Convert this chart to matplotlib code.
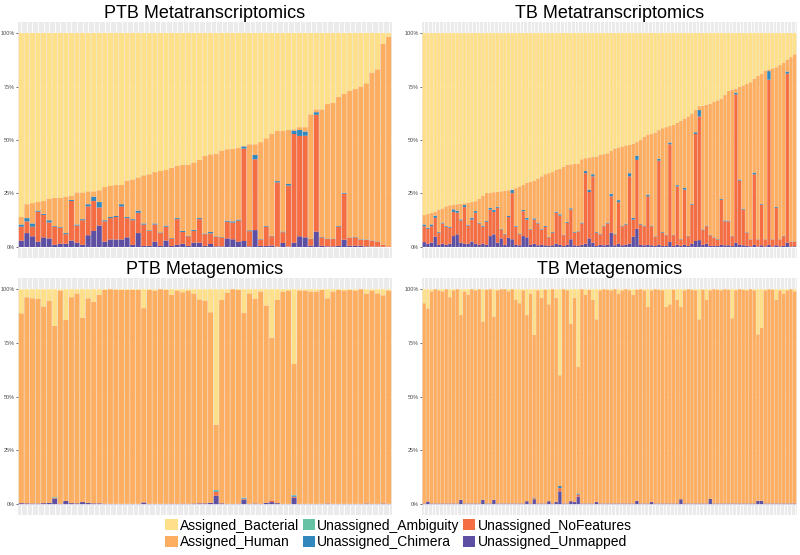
import matplotlib
matplotlib.use("Agg")
import matplotlib.pyplot as plt
from matplotlib.patches import Patch
import numpy as np

plt.rcParams['font.family'] = ['Liberation Sans', 'DejaVu Sans']

categories = ["Assigned_Bacterial", "Assigned_Human", "Unassigned_Ambiguity",
              "Unassigned_Chimera", "Unassigned_NoFeatures", "Unassigned_Unmapped"]
colors = ["#FEE08B", "#FDAE61", "#66C2A5", "#3288BD", "#F46D43", "#5E4FA2"]
titles = ["PTB Metatranscriptomics", "TB Metatranscriptomics",
          "PTB Metagenomics", "TB Metagenomics"]
y_ticks = [0, 25, 50, 75, 100]
y_labels = ["0%", "25%", "50%", "75%", "100%"]

# ---- PTB metatranscriptomics (percent of reads per sample) ----
ptb_mt_unmapped = [3, 6.5, 5, 2.5, 4.5, 4, 1, 1.5, 1.5, 3, 2, 1, 5.5, 7.5, 10, 2.5, 3.5, 3.5, 3.5, 4.5,
                   1, 6.5, 0.5, 0.5, 2.5, 0.5, 3, 0.5, 1, 1.5, 0.5, 2, 2, 0.5, 1.4, 0.3, 0.3, 4, 3.6, 2.5,
                   2.8, 0.3, 7.9, 0.5, 0.5, 0.7, 0.2, 1.9, 0.2, 2, 5, 4.5, 0.6, 7.2, 0.6, 0.3, 0.3, 0.5, 3.4, 0.6,
                   0.6, 0.6, 0.3, 0.2, 0.2, 0.1, 0]
ptb_mt_nofeatures = [6.5, 5.5, 4.5, 14, 10.5, 7.5, 8.5, 7.5, 4.5, 18.5, 8, 11.5, 13.5, 14, 8.5, 9.5, 10, 10.5, 15.5, 9,
                     11.5, 9.5, 10, 7, 8, 6, 6.5, 3.5, 12, 5.5, 4.5, 5.5, 11, 5.5, 5, 4.5, 4.2, 7.8, 7.8, 9.8,
                     43.2, 7.1, 33.1, 3, 9, 4.3, 30, 5, 28.5, 50.8, 46.9, 47.5, 3.1, 54.6, 3.9, 3.4, 3.4, 9, 21.5, 3.6,
                     3.9, 2.8, 3, 2.8, 2.3, 0.9, 0.3]
ptb_mt_chimera = [1, 1.5, 1.5, 0.5, 0.5, 1, 0.3, 0.3, 0.5, 0.5, 0.5, 0.5, 1, 2, 2.5, 0.5, 0.5, 0.5, 1, 0.5,
                  0.5, 1, 0.5, 0.3, 0.5, 0.3, 0.5, 0.2, 0.5, 0.5, 0.2, 0.5, 0.5, 0.3, 0.6, 0.2, 0.2, 0.5, 0.6, 0.5,
                  1, 0.4, 2, 0.2, 0.3, 0.2, 0.6, 0.3, 0.8, 1.6, 2.8, 2, 0.2, 1.2, 0.2, 0.2, 0.2, 0.3, 0.4, 0.2,
                  0.2, 0.2, 0.2, 0.1, 0.1, 0.1, 0]
ptb_mt_ambiguity = [0] * 67
ptb_mt_human = [3.5, 6.5, 9.5, 4, 6, 10, 13.2, 13.7, 17, 2, 15, 12.5, 6, 2.5, 5.5, 15.5, 14.5, 14.5, 9, 17,
                18.5, 15.5, 22.5, 26.2, 24, 28.7, 26, 32.8, 24.5, 31, 33.3, 31.5, 27.2, 36.2, 36.3, 38.6, 40.3, 33.4, 33.8, 33.6,
                0.2, 40.2, 5, 45.3, 41, 47.8, 23.4, 47, 25.2, 0.6, 1.3, 2, 58.1, 1.3, 59.6, 62.9, 63.5, 60.4, 46.2, 68.6,
                69.1, 71.4, 73, 78.4, 80.4, 93.9, 98]

# ---- TB metatranscriptomics ----
tb_mt_unmapped = [2.3, 1.5, 2, 4.8, 1, 1.5, 1, 1.5, 5.1, 5.9, 2, 1.5, 1.5, 2.5, 1.5, 1, 1.5, 1, 5.1, 5.9,
                  2, 4, 1, 4.3, 3.6, 1, 0.8, 5.1, 4.5, 1, 1.5, 0.8, 1, 0.8, 0.5, 0.8, 1.5, 1, 0.5, 1,
                  3.6, 0.8, 0.5, 1, 1.5, 4, 2, 0.5, 1, 0.8, 1, 6.7, 0.8, 1.5, 0.8, 1, 1.5, 4.8, 8.5, 1,
                  0.8, 1, 0.8, 0.5, 1, 0.5, 0.5, 2.3, 0.5, 1, 0.5, 1, 0.5, 1.5, 2.8, 3.2, 1, 1.5, 0.5, 0.5,
                  0.5, 1, 0.8, 0.8, 0.5, 2, 1, 0.8, 0.5, 0.3, 1, 0.3, 0.8, 0.3, 1, 0.3, 0.8, 0.3, 0.5, 2,
                  0.3, 0.3]
tb_mt_nofeatures = [7.4, 7, 7.7, 8.8, 5.7, 9.5, 8.5, 7.5, 11.3, 10.1, 10.4, 17.1, 8.5, 10.3, 14.5, 10, 8, 10.8, 12.4, 10.5,
                    16.3, 4.2, 4.9, 9.7, 21.6, 8.5, 5.2, 11.6, 8.3, 7, 11.3, 10.2, 7, 8.6, 4, 5.9, 14.5, 13.7, 5, 10.3,
                    13.9, 5.9, 6.5, 10, 33, 21.7, 31, 6.2, 4.9, 8.9, 10, 17, 5.1, 19.4, 8.9, 9.5, 31.5, 8, 32.2, 9.5,
                    8.9, 22.7, 8.9, 4.3, 39.4, 6.2, 5, 45.7, 5, 27.3, 3, 25.8, 4.5, 18.3, 50, 57.8, 6.9, 8.2, 5, 3.8,
                    3, 21, 11.2, 11.2, 4.5, 69.3, 30, 16.7, 6.2, 3.2, 33, 3.2, 19, 3.2, 77.2, 3.2, 17.5, 3.2, 4.5, 79,
                    2.2, 2.2]
tb_mt_chimera = [0.8, 0.5, 0.8, 1, 0.4, 0.4, 0.4, 0.4, 1.2, 1, 0.5, 1, 0.4, 0.8, 0.8, 0.4, 0.4, 0.5, 0.8, 1,
                 0.5, 0.3, 0.3, 0.5, 1.5, 0.4, 0.3, 0.6, 0.8, 0.3, 0.6, 0.4, 0.3, 0.4, 0.2, 0.3, 0.5, 0.6, 0.2, 0.4,
                 0.6, 0.3, 0.3, 0.4, 1, 1, 1, 0.3, 0.3, 0.3, 0.4, 1.2, 0.3, 1, 0.3, 0.4, 1.5, 0.8, 2, 0.3,
                 0.3, 0.8, 0.3, 0.2, 0.8, 0.3, 0.2, 0.8, 0.2, 0.6, 0.2, 0.8, 0.2, 0.4, 0.8, 3, 0.3, 0.3, 0.2, 0.2,
                 0.2, 0.4, 0.4, 0.3, 0.2, 0.8, 0.5, 0.4, 0.2, 0.1, 0.8, 0.1, 0.4, 0.1, 4, 0.1, 0.4, 0.1, 0.2, 1,
                 0.1, 0.1]
tb_mt_ambiguity = [0] * 102
tb_mt_human = [4.4, 6.5, 5.5, 1.9, 10.4, 6.6, 9.1, 10.1, 2.2, 3, 7.3, 0.8, 10.2, 7.4, 4.6, 11.1, 14.1, 12.9, 7.1, 8.2,
               7, 17.5, 20, 12, 0.1, 17.6, 22, 11.7, 16.4, 22.2, 17.6, 20.6, 24.7, 24.2, 29.8, 28, 19.5, 21.2, 31.8, 26.7,
               20.5, 31.8, 31.7, 29.6, 6, 15.1, 8, 35.3, 36.8, 33.4, 32.4, 20.1, 39.8, 24.6, 37, 36.6, 13.2, 34.7, 6.3, 39.2,
               41.5, 28, 43, 48.5, 13.4, 48.5, 50.3, 7.7, 51.3, 29.1, 55.3, 32.4, 55.8, 42.2, 10.4, 1.8, 57.8, 56.5, 61.3, 63.3,
               64.8, 46.9, 58.6, 60.7, 68.3, 1.9, 43.3, 57.6, 69.4, 73.4, 43.8, 76.4, 60.8, 78.9, 0.8, 79.9, 65.3, 81.4, 80.8, 5.5,
               86.1, 87.4]

# ---- PTB metagenomics ----
ptb_mg_unmapped = [0.5, 0.4, 0.3, 0.3, 0.5, 0.6, 2.5, 0.2, 1.5, 0.5, 0.4, 1, 0.6, 0.4, 0.4, 0.2, 0.1, 0.1, 0.1, 0.1,
                   0.1, 0.1, 0.8, 0.1, 0.1, 0.1, 0.1, 0.2, 0.1, 0.2, 0.1, 0.3, 0.4, 0.4, 0.6, 4, 0.4, 0.1, 0.1, 0.2,
                   2.2, 0.1, 0.3, 0.1, 0.6, 1, 0.5, 0.1, 0.1, 3, 0.1, 0.1, 0.1, 0.1, 0.1, 0.3, 0.1, 0.1, 0.1, 0.1,
                   0.1, 0.1, 0.3, 0.1, 0.1, 0.3, 0.1]
ptb_mg_nofeatures = [0.1, 0.1, 0.1, 0.1, 0.1, 0.1, 0.3, 0.1, 0.1, 0.1, 0.1, 0.1, 0.1, 0.1, 0.1, 0.1, 0.1, 0.1, 0.1, 0.1,
                     0.1, 0.1, 0.1, 0.1, 0.1, 0.1, 0.1, 0.1, 0.1, 0.1, 0.1, 0.1, 0.1, 0.1, 0.1, 1.8, 0.1, 0.1, 0.1, 0.1,
                     0.3, 0.1, 0.1, 0.1, 0.1, 0.8, 0.1, 0.1, 0.1, 0.5, 0.1, 0.1, 0.1, 0.1, 0.1, 0.1, 0.1, 0.1, 0.1, 0.1,
                     0.1, 0.1, 0.1, 0.1, 0.1, 0.1, 0.1]
ptb_mg_chimera = [0, 0, 0, 0, 0, 0, 0.2, 0, 0, 0, 0, 0, 0, 0, 0, 0, 0, 0, 0, 0,
                  0, 0, 0, 0, 0, 0, 0, 0, 0, 0, 0, 0, 0, 0, 0, 0.3, 0, 0, 0, 0,
                  0.3, 0, 0, 0, 0, 0, 0, 0, 0, 0.5, 0, 0, 0, 0, 0, 0, 0, 0, 0, 0,
                  0, 0, 0, 0, 0, 0, 0]
ptb_mg_ambiguity = [0, 0, 0, 0, 0, 0, 0.3, 0, 0, 0, 0, 0, 0, 0, 0, 0, 0, 0, 0, 0,
                    0, 0, 0, 0, 0, 0, 0, 0, 0, 0, 0, 0, 0, 0, 0, 0.5, 0, 0, 0, 0,
                    0.3, 0, 0, 0, 0, 0, 0, 0, 0, 0.3, 0, 0, 0, 0, 0, 0, 0, 0, 0, 0,
                    0, 0, 0, 0, 0, 0, 0]
ptb_mg_human = [88.2, 95.8, 95.4, 95.1, 91.4, 94, 79.7, 99.1, 84.1, 95.7, 97.5, 85.7, 95.1, 93.7, 96.9, 99.4, 99.8, 99.6, 99.5, 99.5,
                99.5, 99.5, 90.3, 99.5, 99.2, 99.8, 99.5, 97.1, 99.2, 98.3, 99.2, 97.6, 94.8, 94.2, 88.6, 30.4, 94.5, 98.2, 99.8, 99.4,
                86, 97.9, 95.1, 98.7, 91.7, 75.7, 94.4, 98.6, 99.2, 61, 99.2, 99.2, 98.7, 98.7, 99.5, 95.4, 98.7, 99.5, 99.2, 99.5,
                99.2, 99.8, 97.6, 99.2, 97.9, 96.8, 99.2]

# ---- TB metagenomics ----
tb_mg_unmapped = [0.3, 1.2, 0.3, 0.3, 0.3, 0.3, 0.3, 0.3, 0.3, 0.3, 2, 0.3, 0.3, 0.3, 0.3, 0.3, 2, 0.3, 0.3, 2,
                  0.3, 0.3, 0.3, 0.3, 0.3, 0.3, 0.3, 0.3, 1.4, 0.3, 2.3, 0.3, 0.3, 0.3, 1.4, 0.3, 1, 6, 0.3, 0.3,
                  1.4, 1, 3.5, 0.3, 0.3, 0.3, 0.3, 1, 0.3, 0.3, 0.3, 0.3, 0.3, 0.3, 0.3, 0.3, 0.3, 0.3, 1.5, 0.3,
                  0.3, 0.3, 1, 0.3, 0.3, 0.3, 0.3, 0.3, 0.3, 0.3, 2.3, 0.3, 0.3, 0.3, 0.3, 0.3, 0.3, 0.3, 2.5, 0.3,
                  0.3, 0.3, 0.3, 0.3, 0.3, 0.3, 0.3, 0.3, 0.3, 0.3, 0.3, 1.5, 1.5, 0.3, 0.3, 0.3, 0.3, 0.3, 0.3, 0.3,
                  0.3, 0.3]
tb_mg_nofeatures = [0.1, 0.1, 0.1, 0.1, 0.1, 0.1, 0.1, 0.1, 0.1, 0.1, 0.1, 0.1, 0.1, 0.1, 0.1, 0.1, 0.1, 0.1, 0.1, 0.1,
                    0.1, 0.1, 0.1, 0.1, 0.1, 0.1, 0.1, 0.1, 0.1, 0.1, 0.5, 0.1, 0.1, 0.1, 0.1, 0.1, 0.1, 1.5, 0.1, 0.1,
                    0.1, 0.1, 1, 0.1, 0.1, 0.1, 0.1, 0.1, 0.1, 0.1, 0.1, 0.1, 0.1, 0.1, 0.1, 0.1, 0.1, 0.1, 0.1, 0.1,
                    0.1, 0.1, 0.1, 0.1, 0.1, 0.1, 0.1, 0.1, 0.1, 0.1, 0.1, 0.1, 0.1, 0.1, 0.1, 0.1, 0.1, 0.1, 0.1, 0.1,
                    0.1, 0.1, 0.1, 0.1, 0.1, 0.1, 0.1, 0.1, 0.1, 0.1, 0.1, 0.1, 0.1, 0.1, 0.1, 0.1, 0.1, 0.1, 0.1, 0.1,
                    0.1, 0.1]
tb_mg_chimera = [0, 0, 0, 0, 0, 0, 0, 0, 0, 0, 0, 0, 0, 0, 0, 0, 0, 0, 0, 0,
                 0, 0, 0, 0, 0, 0, 0, 0, 0, 0, 0.3, 0, 0, 0, 0, 0, 0, 1, 0, 0,
                 0, 0, 0.5, 0, 0, 0, 0, 0, 0, 0, 0, 0, 0, 0, 0, 0, 0, 0, 0, 0,
                 0, 0, 0, 0, 0, 0, 0, 0, 0, 0, 0, 0, 0, 0, 0, 0, 0, 0, 0, 0,
                 0, 0, 0, 0, 0, 0, 0, 0, 0, 0, 0, 0, 0, 0, 0, 0, 0, 0, 0, 0,
                 0, 0]
tb_mg_ambiguity = [0] * 102
tb_mg_human = [93.1, 89.7, 98.6, 99.6, 99.1, 98.6, 99.6, 95.9, 99.1, 99.6, 85.9, 98.6, 97.1, 99.6, 99.1, 99.6, 82.9, 99.4, 99.6, 85.2,
               99.1, 99.6, 99.6, 98.6, 99.6, 94.6, 93.1, 99.1, 86.5, 97.6, 75.7, 99.1, 95.6, 99.4, 91.5, 99.6, 94.9, 51.5, 99.6, 99.1,
               82.5, 94.9, 59, 99.6, 97.1, 99.4, 94.6, 84.9, 99.1, 99.6, 99.4, 99.1, 99.6, 97.6, 99.1, 99.6, 99.1, 97.1, 98.2, 99.6,
               99.1, 91.4, 98.4, 99.6, 99.4, 99.1, 91.4, 92.6, 99.4, 94.6, 89.4, 99.1, 99.6, 99.4, 99.1, 85.6, 99.4, 94.6, 96.9, 99.6,
               99.4, 99.1, 99.6, 99.4, 86.1, 99.1, 99.6, 99.4, 99.1, 99.6, 99.1, 77.4, 80.4, 99.1, 99.6, 99.4, 94.6, 99.1, 97.6, 99.1,
               99.6, 98.6]


def draw_panel(ax, title, unmapped, nofeatures, chimera, ambiguity, human):
    um = np.array(unmapped, float)
    nf = np.array(nofeatures, float)
    ch = np.array(chimera, float)
    am = np.array(ambiguity, float)
    hu = np.array(human, float)
    bac = 100 - (um + nf + ch + am + hu)
    n = len(hu)
    x = np.arange(1, n + 1)
    # stack from bottom: Unmapped, NoFeatures, Chimera, Ambiguity, Human, Bacterial
    layers = [(um, colors[5]), (nf, colors[4]), (ch, colors[3]),
              (am, colors[2]), (hu, colors[1]), (bac, colors[0])]
    bottom = np.zeros(n)
    for vals, c in layers:
        bars = ax.bar(x, vals, 0.9, bottom=bottom, color=c, linewidth=0, zorder=2)
        for b in bars:
            b.set_snap(False)
        bottom = bottom + vals
    ax.set_xlim(0.4, n + 0.6)
    ax.set_ylim(-5, 105)
    ax.set_facecolor('#EBEBEB')
    ax.set_xticks(x)
    ax.set_xticklabels([])
    ax.tick_params(axis='x', length=0)
    ax.set_yticks(y_ticks)
    ax.set_yticklabels(y_labels)
    ax.tick_params(axis='y', length=1.5, width=0.5, color='#333333',
                   labelsize=4, labelcolor='#4D4D4D', pad=0.8)
    ax.grid(True, color='white', linewidth=0.6, zorder=0)
    ax.set_axisbelow(True)
    for s in ax.spines.values():
        s.set_visible(False)
    ax.set_title(title, fontsize=13, pad=3)


fig = plt.figure(figsize=(8, 5.55), dpi=100)
ax_tl = fig.add_axes([0.0225, 0.5357, 0.4675, 0.4241])
ax_tr = fig.add_axes([0.5275, 0.5357, 0.4685, 0.4241])
ax_bl = fig.add_axes([0.0225, 0.0721, 0.4675, 0.4261])
ax_br = fig.add_axes([0.5275, 0.0721, 0.4685, 0.4261])

draw_panel(ax_tl, titles[0], ptb_mt_unmapped, ptb_mt_nofeatures, ptb_mt_chimera, ptb_mt_ambiguity, ptb_mt_human)
draw_panel(ax_tr, titles[1], tb_mt_unmapped, tb_mt_nofeatures, tb_mt_chimera, tb_mt_ambiguity, tb_mt_human)
draw_panel(ax_bl, titles[2], ptb_mg_unmapped, ptb_mg_nofeatures, ptb_mg_chimera, ptb_mg_ambiguity, ptb_mg_human)
draw_panel(ax_br, titles[3], tb_mg_unmapped, tb_mg_nofeatures, tb_mg_chimera, tb_mg_ambiguity, tb_mg_human)

handles = [Patch(facecolor=c, edgecolor='none') for c in colors]
fig.legend(handles, categories, loc='center', bbox_to_anchor=(0.498, 0.038), ncol=3,
           frameon=False, fontsize=10, handlelength=0.9, handleheight=0.9,
           handletextpad=0.15, columnspacing=0.25, labelspacing=0.2, borderpad=0)

fig.savefig("out.png", dpi=100)
